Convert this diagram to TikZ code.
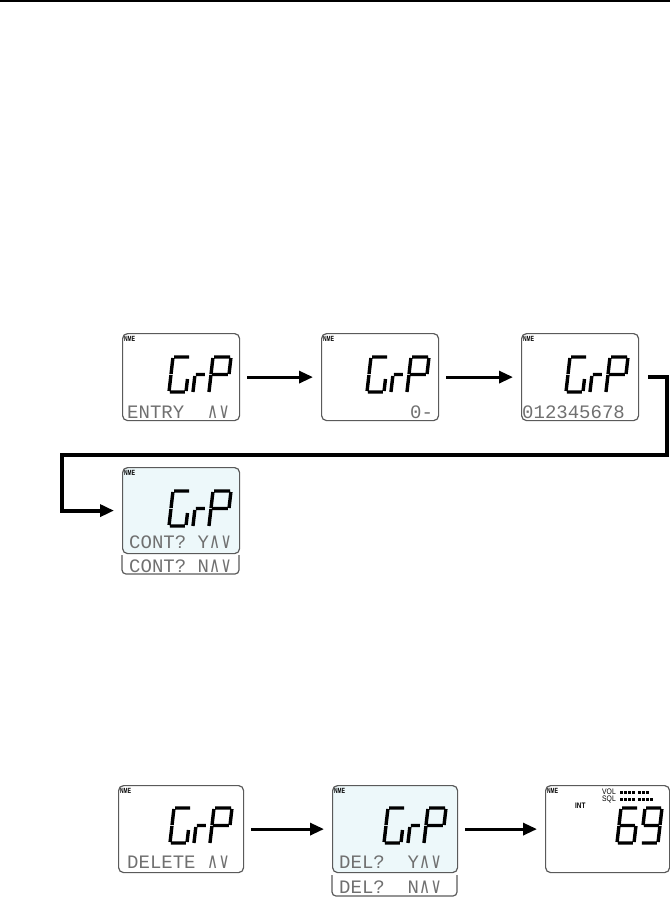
\documentclass[tikz,border=0pt]{standalone}
\usepackage{fontspec}
\usepackage{graphicx}
\setmainfont{Liberation Sans}
\newfontfamily\lcdfont{Liberation Mono}
\newfontfamily\lcdsym{DejaVu Sans Mono}
\usetikzlibrary{arrows.meta,calc}
\definecolor{lcdfill}{HTML}{EDF8FA}
\definecolor{lcdframe}{HTML}{5A5A5A}
\definecolor{lcdgray}{HTML}{707070}
\newcommand{\updn}{{\lcdsym\fontsize{16}{16}\selectfont\makebox[11.4pt]{\scalebox{1}[1.35]{∧}}\makebox[11.4pt]{\scalebox{1}[1.35]{∨}}}}
\tikzset{
  lcd/.style={draw=lcdframe, line width=1.2pt, rounded corners=5pt, anchor=north west,
    inner sep=0pt, minimum width=117pt, minimum height=87pt},
  lcdwide/.style={lcd, minimum width=125pt},
  lit/.style={fill=lcdfill},
  nme/.style={anchor=north west, inner sep=0pt, font=\fontsize{7.5}{7.5}\selectfont\bfseries},
  lcdtext/.style={anchor=base west, inner sep=0pt, text=lcdgray, font=\lcdfont\fontsize{19}{19}\selectfont},
  small/.style={anchor=north west, inner sep=0pt, font=\fontsize{8}{8}\selectfont},
  strip/.style={draw=lcdframe, line width=1.2pt, rounded corners=4pt},
  flow/.style={line width=3.2pt, -{Triangle[length=14pt,width=12pt]}, shorten <=7pt, shorten >=8pt},
  seg/.style={line width=3.4pt, xslant=0.115},
  pics/digG/.style={code={\draw[seg] (1,0)--(16,0) (0,1)--(0,17) (0,18)--(0,34) (1,35)--(16,35) (17,22)--(17,34);}},
  pics/digr/.style={code={\draw[seg] (1,17.5)--(10,17.5) (0,19)--(0,35);}},
  pics/digP/.style={code={\draw[seg] (1,0)--(17,0) (18,1)--(18,17) (1,17.5)--(17,17.5) (0,1)--(0,17) (0,18)--(0,35);}},
  pics/dig6/.style={code={\draw[seg] (1,0)--(16,0) (0,1)--(0,17) (1,17.5)--(16,17.5) (0,18)--(0,34) (1,35)--(16,35) (17,18)--(17,34);}},
  pics/dig9/.style={code={\draw[seg] (1,0)--(16,0) (17,1)--(17,17) (0,1)--(0,17) (1,17.5)--(16,17.5) (17,18)--(17,34) (1,35)--(16,35);}},
  pics/grp/.style={code={\pic {digG}; \pic at (24,0) {digr}; \pic at (40,0) {digP};}}
}
\begin{document}
\begin{tikzpicture}[x=1pt,y=-1pt]
  \useasboundingbox (0,0) rectangle (670,898);
  \draw[line width=1.5pt] (0,1) -- (670,1);
  % Screen 1: entry
  \begin{scope}[shift={(122,333)}]
    \node[lcd] (s1) at (0,0) {};
    \node[nme] (s1nme) at (2,3) {\scalebox{0.65}[1]{NME}};
    \pic at (51,24) {grp};
    \node[lcdtext] (s1txt) at (5,85) {ENTRY~~\updn};
  \end{scope}
  % Screen 2: group number
  \begin{scope}[shift={(321,333)}]
    \node[lcd] (s2) at (0,0) {};
    \node[nme] (s2nme) at (2,3) {\scalebox{0.65}[1]{NME}};
    \pic at (50,24) {grp};
    \node[lcdtext] (s2txt) at (89,85) {0-};
  \end{scope}
  % Screen 3: member list
  \begin{scope}[shift={(521,333)}]
    \node[lcd] (s3) at (0,0) {};
    \node[nme] (s3nme) at (2,3) {\scalebox{0.65}[1]{NME}};
    \pic at (49,24) {grp};
    \node[lcdtext] (s3txt) at (1,85) {012345678};
  \end{scope}
  % Screen 4: continue?
  \begin{scope}[shift={(122,467)}]
    \node[lcd,lit,minimum height=86pt] (s4) at (0,0) {};
    \node[nme] (s4nme) at (2,3) {\scalebox{0.65}[1]{NME}};
    \pic at (51,24) {grp};
    \node[lcdtext] (s4txt) at (7,81) {CONT?~Y\updn};
    \draw[strip] (0,88) -- (0,107) -- (117,107) -- (117,88);
    \node[lcdtext] (s4alt) at (7,105) {CONT?~N\updn};
  \end{scope}
  % Screen 5: delete
  \begin{scope}[shift={(118,785)}]
    \node[lcd,lcdwide] (s5) at (0,0) {};
    \node[nme] (s5nme) at (2,3) {\scalebox{0.65}[1]{NME}};
    \pic at (56,23) {grp};
    \node[lcdtext] (s5txt) at (9,83) {DELETE~\updn};
  \end{scope}
  % Screen 6: delete?
  \begin{scope}[shift={(332,785)}]
    \node[lcd,lcdwide,lit] (s6) at (0,0) {};
    \node[nme] (s6nme) at (2,3) {\scalebox{0.65}[1]{NME}};
    \pic at (56,23) {grp};
    \node[lcdtext] (s6txt) at (7,83) {DEL?~~Y\updn};
    \draw[strip] (0,90) -- (0,111) -- (125,111) -- (125,90);
    \node[lcdtext] (s6alt) at (7,108) {DEL?~~N\updn};
  \end{scope}
  % Screen 7: channel
  \begin{scope}[shift={(545,785)}]
    \node[lcd,minimum width=124pt] (s7) at (0,0) {};
    \node[nme] (s7nme) at (2,3) {\scalebox{0.65}[1]{NME}};
    \node[small] (s7vol) at (57,4) {\scalebox{0.85}[1]{VOL}};
    \node[small] (s7sql) at (57,11) {\scalebox{0.85}[1]{SQL}};
    \node[small,font=\fontsize{8}{8}\selectfont\bfseries] (s7int) at (30,18) {\scalebox{0.8}[1]{INT}};
    \foreach \i in {0,...,3} {
      \fill (75+\i*4,6) rectangle ++(3,3);
      \fill (93+\i*4,6) rectangle ++(3,3);
      \fill (75+\i*4,13) rectangle ++(3,3);
      \fill (93+\i*4,13) rectangle ++(3,3);
    }
    \fill[white] (105,5) rectangle ++(5,5);
    \pic at (76,23) {dig6};
    \pic at (100,23) {dig9};
  \end{scope}
  % connectors
  \coordinate (bendR) at (667,455);
  \coordinate (bendL) at (62,455);
  \draw[flow] (s1) -- (s2);
  \draw[flow] (s2) -- (s3);
  \draw[flow,line width=4pt,shorten <=9pt] (s3.east) -| (bendR) -- (bendL) |- (s4.west);
  \draw[flow] (s5) -- (s6);
  \draw[flow] (s6) -- (s7);
\end{tikzpicture}
\end{document}
